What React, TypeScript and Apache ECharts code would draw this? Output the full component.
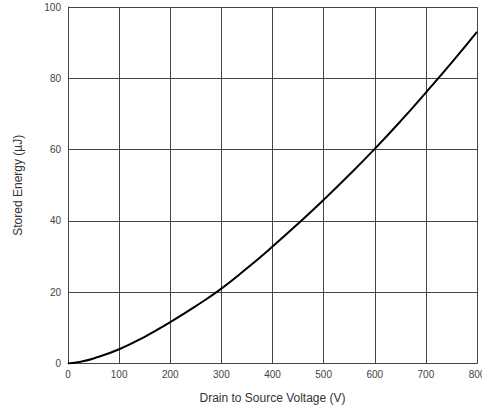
import React, { useEffect, useRef } from "react";
import * as echarts from "echarts";

const voltages = [0, 25, 50, 100, 150, 200, 250, 300, 350, 400, 450, 500, 550, 600, 650, 700, 750, 800];
const energies = [0, 0.5, 1.4, 4.0, 7.5, 11.6, 16.1, 21.0, 26.7, 32.8, 39.2, 45.9, 52.9, 60.2, 67.9, 76.0, 84.3, 93.0];
const xTicks = [0, 100, 200, 300, 400, 500, 600, 700, 800];
const yTicks = [0, 20, 40, 60, 80, 100];

export default function App() {
  const ref = useRef<HTMLDivElement>(null);
  useEffect(() => {
    const chart = echarts.init(ref.current!, null, { renderer: "svg" });
    const font = "'Liberation Sans', Arial, sans-serif";
    chart.setOption({
      animation: false,
      grid: { left: 68, top: 7, right: 5, bottom: 46.5, containLabel: false, outerBoundsMode: "none" },
      xAxis: {
        type: "value",
        min: xTicks[0],
        max: xTicks[xTicks.length - 1],
        interval: 100,
        name: "Drain to Source Voltage (V)",
        nameLocation: "middle",
        nameGap: 28,
        nameTextStyle: { fontFamily: font, fontSize: 12, color: "#333" },
        axisLine: { show: true, lineStyle: { color: "#444", width: 1 } },
        axisTick: { show: false },
        axisLabel: { fontFamily: font, fontSize: 10, color: "#444", margin: 6 },
        splitLine: { show: true, lineStyle: { color: "#444", width: 1 } },
      },
      yAxis: {
        type: "value",
        min: yTicks[0],
        max: yTicks[yTicks.length - 1],
        interval: 20,
        name: "Stored Energy (µJ)",
        nameLocation: "middle",
        nameGap: 44,
        nameTextStyle: { fontFamily: font, fontSize: 12, color: "#333" },
        axisLine: { show: true, lineStyle: { color: "#444", width: 1 } },
        axisTick: { show: false },
        axisLabel: { fontFamily: font, fontSize: 10, color: "#444", margin: 7 },
        splitLine: { show: true, lineStyle: { color: "#444", width: 1 } },
      },
      series: [
        {
          type: "line",
          data: voltages.map((v, i) => [v, energies[i]]),
          smooth: true,
          showSymbol: false,
          lineStyle: { color: "#000", width: 2 },
        },
      ],
    });
    return () => chart.dispose();
  }, []);
  return (
    <div
      ref={ref}
      style={{ position: "absolute", left: 0, top: 0, width: 482, height: 410, background: "#fff" }}
    />
  );
}
